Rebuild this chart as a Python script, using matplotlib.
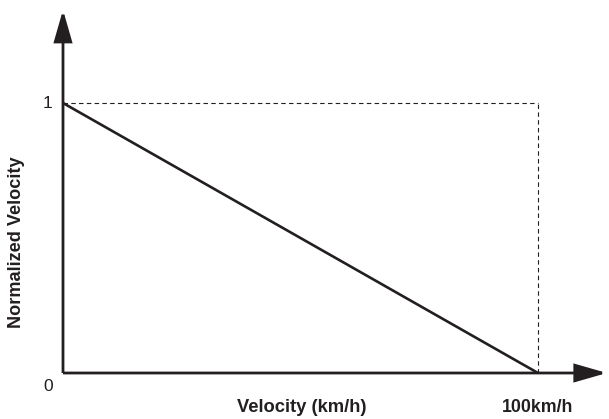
import matplotlib.pyplot as plt
from matplotlib.patches import FancyArrowPatch

plt.rcParams['font.family'] = ['Liberation Sans', 'DejaVu Sans']

# data: normalized velocity falls linearly from 1 at 0 to 0 at 100 km/h
speed = [0, 100]
norm_vel = [1, 0]
y_ticks = [0, 1]
y_tick_labels = ['0', '1']
x_max_label = '100km/h'

fig = plt.figure(figsize=(6.09, 4.19), dpi=100)
ax = fig.add_axes([0, 0, 1, 1])
ax.set_xlim(-63 / 4.75, (609 - 63) / 4.75)
ax.set_ylim(-46 / 270, 373 / 270)
ax.axis('off')

# axes with arrows
for end in [(114.5, 0), (0, 1.345)]:
    arr = FancyArrowPatch((0, 0), end, arrowstyle='-|>,head_length=19.5,head_width=5.6',
                          mutation_scale=1, color='#231f20', lw=2.0,
                          shrinkA=0, shrinkB=0, joinstyle='miter', capstyle='butt')
    ax.add_patch(arr)

# dashed guide lines
ax.plot([0, speed[-1]], [norm_vel[0], norm_vel[0]], ls=(0, (4, 3)), color='#231f20', lw=0.8)
ax.plot([speed[-1], speed[-1]], [0, norm_vel[0]], ls=(0, (4, 3)), color='#231f20', lw=0.8)

# main line
ax.plot(speed, norm_vel, color='#231f20', lw=1.9, solid_capstyle='butt')

# tick labels
for v, lab in zip(y_ticks, y_tick_labels):
    ax.text(-3.2, v - (0.05 if v == 0 else 0), lab, ha='center', va='center', fontsize=12.5, color='#231f20')

ax.text(speed[-1], -0.128, x_max_label, ha='center', va='center', fontsize=12.8,
        fontweight='bold', color='#231f20')
ax.text(50.3, -0.128, 'Velocity (km/h)', ha='center', va='center', fontsize=13.2,
        fontweight='bold', color='#231f20')
ax.text(-9.7, 0.485, 'Normalized Velocity', ha='center', va='center', rotation=90,
        fontsize=13.1, fontweight='bold', color='#231f20')

plt.savefig('out.png', dpi=100)
